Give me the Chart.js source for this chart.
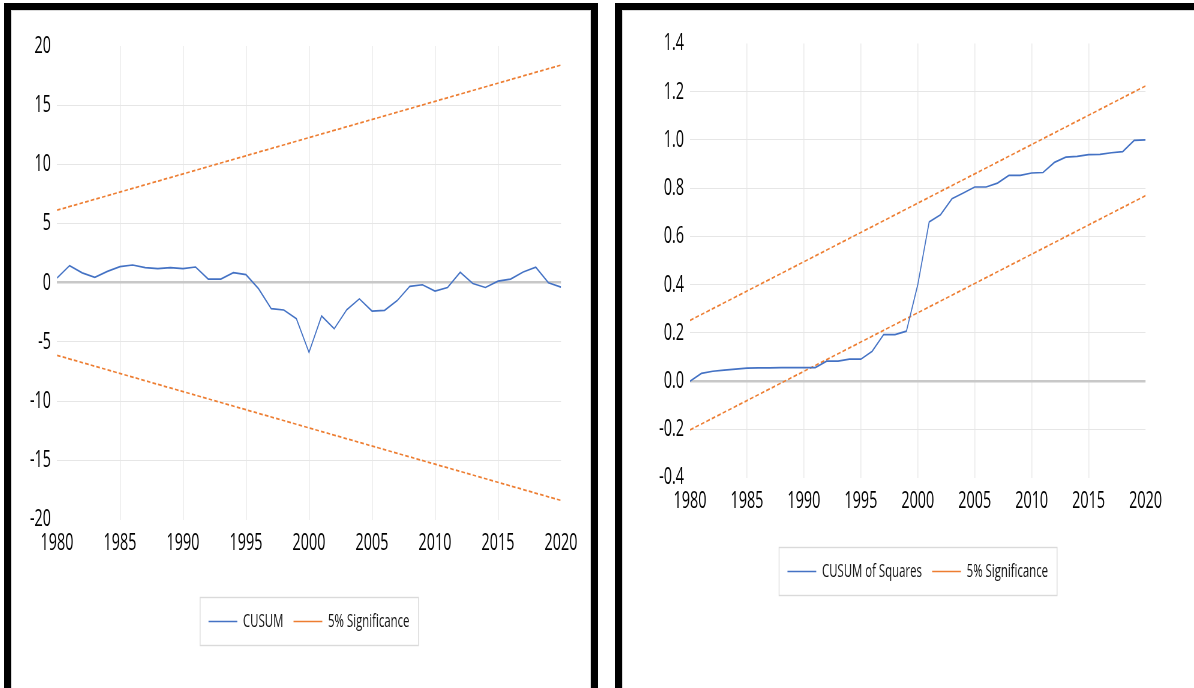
<!DOCTYPE html>
<html>
<head>
<meta charset="utf-8">
<script src="https://cdn.jsdelivr.net/npm/chart.js@4.4.0/dist/chart.umd.min.js"></script>
<style>
  html, body { margin: 0; padding: 0; background: #fff; overflow: hidden; }
  body { width: 1194px; height: 688px; position: relative; }
  .panel { position: absolute; top: 3px; height: 720px; border: 7px solid #000; border-bottom: none; box-sizing: border-box; }
  .panel .inner { position: absolute; left: 0; top: 0; right: 0; bottom: 0; border: 1px solid #d9d9d9; border-bottom: none; }
  #leftPanel { left: 4px; width: 594px; }
  #rightPanel { left: 615px; width: 600px; }
  .holder { position: absolute; top: 10px; height: 678px; }
  .squish { position: absolute; left: 0; top: 0; height: 678px; transform: scaleX(0.6); transform-origin: 0 0; }
</style>
</head>
<body>
<div class="panel" id="leftPanel"><div class="inner"></div></div>
<div class="panel" id="rightPanel"><div class="inner"></div></div>

<div class="holder" style="left:10px; width:581px;">
  <div class="squish" style="width:968.3px;"><canvas id="cusumChart"></canvas></div>
</div>
<div class="holder" style="left:621px; width:573px;">
  <div class="squish" style="width:955px;"><canvas id="cusumSqChart"></canvas></div>
</div>

<script>
const years = [1980, 1981, 1982, 1983, 1984, 1985, 1986, 1987, 1988, 1989,
    1990, 1991, 1992, 1993, 1994, 1995, 1996, 1997, 1998, 1999,
    2000, 2001, 2002, 2003, 2004, 2005, 2006, 2007, 2008, 2009,
    2010, 2011, 2012, 2013, 2014, 2015, 2016, 2017, 2018, 2019, 2020];

const cusum = [0.40, 1.45, 0.83, 0.45, 0.96, 1.36, 1.50, 1.28, 1.19, 1.28,
    1.19, 1.33, 0.31, 0.31, 0.85, 0.68, -0.51, -2.19, -2.30, -3.04,
    -5.88, -2.81, -3.89, -2.27, -1.36, -2.39, -2.33, -1.51, -0.31, -0.17,
    -0.71, -0.40, 0.88, -0.06, -0.40, 0.14, 0.31, 0.91, 1.31, 0.00, -0.37];

const cusumSq = [0.000, 0.032, 0.041, 0.046, 0.050, 0.054, 0.055, 0.055, 0.056, 0.056,
    0.056, 0.056, 0.083, 0.083, 0.091, 0.091, 0.124, 0.193, 0.193, 0.207,
    0.400, 0.660, 0.690, 0.756, 0.780, 0.805, 0.805, 0.821, 0.853, 0.853,
    0.863, 0.865, 0.907, 0.929, 0.932, 0.939, 0.940, 0.947, 0.952, 0.998, 1.000];

// significance bands are straight lines, so only the end years are needed
const sigYears = [1980, 2020];
const cusumUpper = [6.13, 18.39];
const cusumLower = [-6.13, -18.39];
const sqUpper = [0.252, 1.224];
const sqLower = [-0.202, 0.769];

const xTicks = { min: 1980, max: 2020, step: 5 };
const cusumTicks = { min: -20, max: 20, step: 5 };
const sqTicks = { min: -0.4, max: 1.4, step: 0.2 };

Chart.defaults.font.family = '"Open Sans", "Liberation Sans", sans-serif';
Chart.defaults.color = '#000';

function points(xs, ys) {
    return xs.map(function (x, i) { return { x: x, y: ys[i] }; });
}

// grey frame round the legend items, like the Excel legend box
const legendFrame = {
    id: 'legendFrame',
    afterDraw: function (chart) {
        const boxes = chart.legend && chart.legend.legendHitBoxes;
        if (!boxes || !boxes.length) return;
        let l = Infinity, r = -Infinity, t = Infinity, b = -Infinity;
        boxes.forEach(function (h) {
            l = Math.min(l, h.left);
            r = Math.max(r, h.left + h.width);
            t = Math.min(t, h.top);
            b = Math.max(b, h.top + h.height);
        });
        const ctx = chart.ctx;
        ctx.save();
        ctx.strokeStyle = '#dadada';
        ctx.lineWidth = 1.4;
        ctx.strokeRect(l - 14, t - 14.5, r - l + 29, b - t + 29);
        ctx.restore();
    }
};

function makeChart(canvasId, label, values, upper, lower, yTicks, opts) {
    const isZero = function (v) { return Math.abs(v) < 1e-9; };
    return new Chart(document.getElementById(canvasId), {
        type: 'line',
        data: {
            datasets: [{
                label: label,
                data: points(years, values),
                borderColor: '#4472C4',
                borderWidth: 1.7,
                pointRadius: 0,
                tension: 0
            }, {
                label: '5% Significance',
                data: points(sigYears, upper),
                borderColor: '#ED7D31',
                borderWidth: 1.7,
                borderDash: [6, 3.5],
                pointRadius: 0
            }, {
                label: 'lower',
                data: points(sigYears, lower),
                borderColor: '#ED7D31',
                borderWidth: 1.7,
                borderDash: [6, 3.5],
                pointRadius: 0
            }]
        },
        options: {
            responsive: true,
            maintainAspectRatio: false,
            animation: false,
            devicePixelRatio: 1,
            layout: { padding: { left: 0, right: opts.padRight, top: opts.padTop, bottom: opts.padBottom } },
            plugins: {
                tooltip: { enabled: false },
                legend: {
                    position: 'bottom',
                    fullSize: false,
                    labels: {
                        usePointStyle: true,
                        pointStyle: 'line',
                        pointStyleWidth: 48,
                        padding: 17,
                        color: '#111',
                        font: { size: 19 },
                        filter: function (item) { return item.datasetIndex < 2; }
                    }
                }
            },
            scales: {
                x: {
                    type: 'linear',
                    min: xTicks.min,
                    max: xTicks.max,
                    afterFit: function (s) { s.height = opts.xHeight; },
                    border: { display: false },
                    grid: {
                        drawTicks: false,
                        lineWidth: 1.6,
                        color: function (c) {
                            if (c.tick && (c.tick.value === xTicks.min || c.tick.value === xTicks.max)) return 'rgba(0,0,0,0)';
                            return '#ebebeb';
                        }
                    },
                    ticks: {
                        stepSize: xTicks.step,
                        padding: 9,
                        autoSkip: false,
                        maxRotation: 0,
                        font: { size: 24 },
                        callback: function (v) { return String(v); }
                    }
                },
                y: {
                    min: yTicks.min,
                    max: yTicks.max,
                    afterFit: function (s) { s.width = opts.yWidth; },
                    border: { display: false },
                    grid: {
                        drawTicks: false,
                        color: function (c) {
                            const v = c.tick ? c.tick.value : 1;
                            if (isZero(v)) return '#c8c8c8';
                            if (Math.abs(v - yTicks.min) < 1e-9 || Math.abs(v - yTicks.max) < 1e-9) return 'rgba(0,0,0,0)';
                            return '#e6e6e6';
                        },
                        lineWidth: function (c) {
                            return (c.tick && isZero(c.tick.value)) ? 2.6 : 1;
                        }
                    },
                    ticks: {
                        stepSize: yTicks.step,
                        padding: 10,
                        font: { size: 24 },
                        callback: function (v) {
                            if (opts.decimals === 0) return String(v);
                            return isZero(v) ? (0).toFixed(opts.decimals) : v.toFixed(opts.decimals);
                        }
                    }
                }
            }
        },
        plugins: [legendFrame]
    });
}

makeChart('cusumChart', 'CUSUM', cusum, cusumUpper, cusumLower, cusumTicks,
    { padTop: 36, padRight: 50, padBottom: 47, xHeight: 75.5, yWidth: 78.3, decimals: 0 });

makeChart('cusumSqChart', 'CUSUM of Squares', cusumSq, sqUpper, sqLower, sqTicks,
    { padTop: 33.5, padRight: 80.8, padBottom: 97, xHeight: 67.4, yWidth: 115, decimals: 1 });
</script>
</body>
</html>
